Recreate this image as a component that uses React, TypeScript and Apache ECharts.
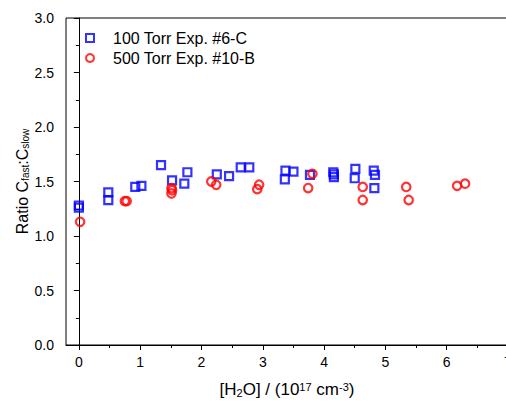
import React, { useEffect, useRef } from "react";
import * as echarts from "echarts";

const blueX = [0.0, 0.0, 0.48, 0.48, 0.92, 1.02, 1.34, 1.52, 1.72, 1.77, 2.25, 2.45, 2.64, 2.78, 3.37, 3.5, 3.36, 3.77, 4.15, 4.16, 4.16, 4.51, 4.5, 4.81, 4.83, 4.82];
const blueY = [1.28, 1.26, 1.4, 1.33, 1.45, 1.46, 1.65, 1.51, 1.48, 1.585, 1.565, 1.55, 1.63, 1.63, 1.6, 1.59, 1.52, 1.56, 1.585, 1.565, 1.54, 1.615, 1.53, 1.6, 1.56, 1.44];
const redX = [0.02, 0.75, 0.78, 1.51, 1.52, 1.51, 2.16, 2.24, 2.94, 2.91, 3.81, 3.74, 4.63, 4.63, 5.34, 5.38, 6.17, 6.3];
const redY = [1.13, 1.32, 1.32, 1.44, 1.42, 1.39, 1.5, 1.47, 1.47, 1.43, 1.57, 1.44, 1.45, 1.33, 1.45, 1.33, 1.46, 1.48];

const seriesNames = ["100 Torr Exp. #6-C", "500 Torr Exp. #10-B"];
const xMajorTicks = [0, 1, 2, 3, 4, 5, 6, 7];
const xMinorTicks = [0.5, 1.5, 2.5, 3.5, 4.5, 5.5, 6.5];

const FONT = "Liberation Sans, Arial, sans-serif";

export default function App() {
  const ref = useRef<HTMLDivElement>(null);
  useEffect(() => {
    if (!ref.current) return;
    const chart = echarts.init(ref.current, null, { renderer: "svg" });
    const black = { color: "#000", width: 1 };
    const mkRich = (fs: number, sfs: number, off: number) => ({
      b: { fontSize: fs, fontFamily: FONT, color: "#000", lineHeight: fs, verticalAlign: "middle" },
      s: { fontSize: sfs, fontFamily: FONT, color: "#000", lineHeight: sfs, padding: [off, 0, 0, 0], verticalAlign: "bottom" },
      p: { fontSize: sfs, fontFamily: FONT, color: "#000", lineHeight: sfs, padding: [0, 0, off, 0], verticalAlign: "top" },
    });
    chart.setOption({
      animation: false,
      backgroundColor: "#fff",
      textStyle: { fontFamily: FONT },
      grid: {
        left: 66, right: 12, top: 18, bottom: 56,
        containLabel: false, outerBoundsMode: "none",
        show: true, borderColor: "#000", borderWidth: 1,
      },
      legend: {
        orient: "vertical",
        left: 80,
        top: 24,
        itemWidth: 8,
        itemHeight: 8,
        itemGap: 2,
        textStyle: { fontSize: 16, lineHeight: 18, color: "#000", fontFamily: FONT, padding: [0, 0, 0, 14] },
        data: seriesNames,
      },
      xAxis: [
        {
          type: "value",
          min: -0.21,
          max: 7,
          position: "bottom",
          axisLine: { onZero: false, lineStyle: black },
          axisTick: { show: true, length: 5, customValues: xMajorTicks, lineStyle: black },
          axisLabel: { customValues: xMajorTicks, fontSize: 14, color: "#000", margin: 10, fontFamily: FONT },
          splitLine: { show: false },
          name: "{b|[H}{s|2}{b|O] / (10}{p|17}{b| cm}{p|-3}{b|)}",
          nameLocation: "middle",
          nameGap: 36,
          nameTextStyle: { rich: mkRich(17, 11, 11) },
        },
        {
          type: "value",
          min: -0.21,
          max: 7,
          position: "bottom",
          axisLine: { show: false },
          axisTick: { show: true, length: 3, customValues: xMinorTicks, lineStyle: black },
          axisLabel: { show: false },
          splitLine: { show: false },
        },
      ],
      yAxis: {
        type: "value",
        min: 0,
        max: 3,
        interval: 0.5,
        axisLine: { show: true, lineStyle: black },
        axisTick: { show: true, length: 5, lineStyle: black },
        minorTick: { show: true, splitNumber: 2, length: 3, lineStyle: black },
        axisLabel: { fontSize: 14, color: "#000", margin: 12, fontFamily: FONT, formatter: (v: number) => v.toFixed(1) },
        splitLine: { show: false },
        minorSplitLine: { show: false },
        name: "{b|Ratio C}{s|fast}{b|:C}{s|slow}",
        nameLocation: "middle",
        nameMoveOverlap: false,
        nameGap: 36,
        nameTextStyle: { rich: mkRich(16, 10, 11) },
      },
      series: [
        {
          name: seriesNames[0],
          type: "scatter",
          xAxisIndex: 0,
          symbol: "rect",
          symbolSize: 8,
          itemStyle: { color: "rgba(0,0,0,0)", borderColor: "#0000ff", borderWidth: 2.2 },
          data: blueX.map((x, i) => [x, blueY[i]]),
        },
        {
          name: seriesNames[1],
          type: "scatter",
          xAxisIndex: 0,
          symbol: "circle",
          symbolSize: 8.5,
          itemStyle: { color: "rgba(0,0,0,0)", borderColor: "#ff0000", borderWidth: 2.2 },
          data: redX.map((x, i) => [x, redY[i]]),
        },
      ],
    });
    return () => chart.dispose();
  }, []);
  return (
    <div style={{ position: "fixed", left: 0, top: 0, width: 506, height: 401, overflow: "hidden", background: "#fff" }}>
      <div ref={ref} style={{ width: 520, height: 401 }} />
    </div>
  );
}
